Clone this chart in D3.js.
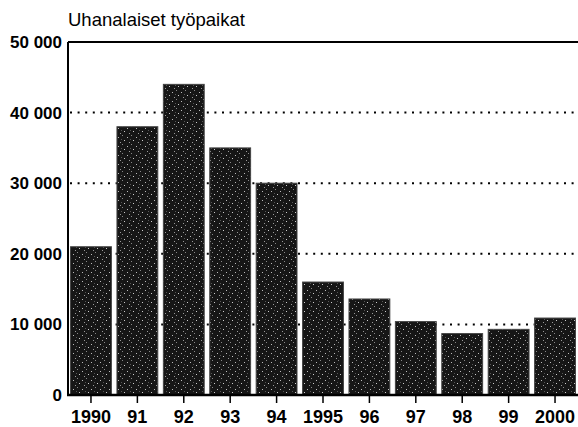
<!DOCTYPE html>
<html>
<head>
<meta charset="utf-8">
<script src="https://cdn.jsdelivr.net/npm/d3@7"></script>
<style>
  body { margin: 0; background: #fff; }
  svg { display: block; }
</style>
</head>
<body>
<svg width="578" height="427"></svg>
<script>
// data
var years = ["1990", "91", "92", "93", "94", "1995", "96", "97", "98", "99", "2000"];
var jobs = [21000, 38000, 44000, 35000, 30000, 16000, 13600, 10400, 8700, 9300, 10900];
var yTicks = [0, 10000, 20000, 30000, 40000, 50000];

var svg = d3.select("svg");
var plotLeft = 68, plotRight = 578, plotTop = 42, plotBottom = 395;

var x = d3.scaleBand()
  .domain(years)
  .range([plotLeft, plotRight])
  .paddingInner(0.12)
  .paddingOuter(0.055);

var y = d3.scaleLinear()
  .domain([0, 50000])
  .range([plotBottom, plotTop]);

// speckled fill for the bars
var pat = svg.append("defs").append("pattern")
  .attr("id", "speck")
  .attr("patternUnits", "userSpaceOnUse")
  .attr("width", 9).attr("height", 9);
pat.append("rect").attr("width", 9).attr("height", 9).attr("fill", "#161616");
pat.append("rect").attr("x", 1).attr("y", 2).attr("width", 1).attr("height", 1).attr("fill", "#bbb");
pat.append("rect").attr("x", 5).attr("y", 0).attr("width", 1).attr("height", 1).attr("fill", "#888");
pat.append("rect").attr("x", 7).attr("y", 5).attr("width", 1).attr("height", 1).attr("fill", "#ccc");
pat.append("rect").attr("x", 3).attr("y", 7).attr("width", 1).attr("height", 1).attr("fill", "#999");
pat.append("rect").attr("x", 4).attr("y", 4).attr("width", 1).attr("height", 1).attr("fill", "#555");

// title
svg.append("text")
  .attr("x", plotLeft)
  .attr("y", 26)
  .style("font-family", "Liberation Sans, Arial, sans-serif")
  .style("font-size", "18.5px")
  .text("Uhanalaiset työpaikat");

// dotted gridlines
svg.append("g")
  .selectAll("line")
  .data(yTicks.filter(function(d) { return d > 0 && d < 50000; }))
  .enter().append("line")
    .attr("x1", plotLeft + 2)
    .attr("x2", plotRight)
    .attr("y1", function(d) { return y(d); })
    .attr("y2", function(d) { return y(d); })
    .attr("stroke", "#000")
    .attr("stroke-width", 2)
    .attr("stroke-dasharray", "2,5.6");

// bars
svg.append("g")
  .selectAll("rect")
  .data(jobs)
  .enter().append("rect")
    .attr("x", function(d, i) { return x(years[i]); })
    .attr("y", function(d) { return y(d); })
    .attr("width", x.bandwidth())
    .attr("height", function(d) { return plotBottom - y(d); })
    .attr("fill", "url(#speck)")
    .attr("stroke", "#444")
    .attr("stroke-width", 1);

// y axis
var yAxis = svg.append("g")
  .attr("transform", "translate(" + plotLeft + ",0)")
  .call(d3.axisLeft(y)
    .tickValues(yTicks)
    .tickSize(0)
    .tickPadding(6)
    .tickFormat(function(d) { return d3.format(",")(d).replace(",", " "); }));
yAxis.select(".domain").remove();
yAxis.selectAll("text")
  .style("font-family", "Liberation Sans, Arial, sans-serif")
  .style("font-size", "17px")
  .style("font-weight", "bold")
  .attr("fill", "#000");

svg.append("line")
  .attr("x1", plotLeft).attr("x2", plotLeft)
  .attr("y1", plotTop).attr("y2", plotBottom)
  .attr("stroke", "#000").attr("stroke-width", 2);
svg.append("line")
  .attr("x1", plotLeft).attr("x2", plotRight)
  .attr("y1", plotTop).attr("y2", plotTop)
  .attr("stroke", "#000").attr("stroke-width", 2);

// x axis
var xAxis = svg.append("g")
  .attr("transform", "translate(0," + plotBottom + ")")
  .call(d3.axisBottom(x).tickSize(8).tickPadding(7));
xAxis.select(".domain").remove();
xAxis.selectAll("line").attr("stroke-width", 1.5);
xAxis.selectAll("text")
  .style("font-family", "Liberation Sans, Arial, sans-serif")
  .style("font-size", "18px")
  .style("font-weight", "bold")
  .attr("fill", "#000");

svg.append("line")
  .attr("x1", plotLeft - 1).attr("x2", plotRight)
  .attr("y1", plotBottom).attr("y2", plotBottom)
  .attr("stroke", "#000").attr("stroke-width", 2.5);
</script>
</body>
</html>
